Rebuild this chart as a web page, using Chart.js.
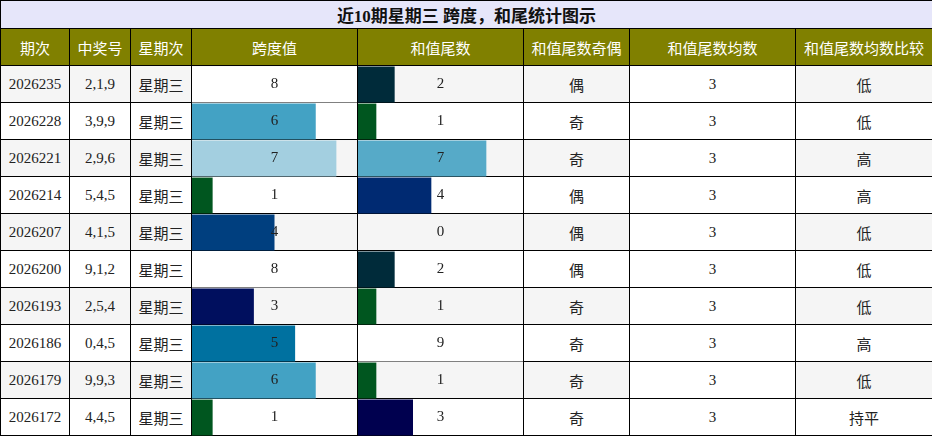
<!DOCTYPE html>
<html>
<head>
<meta charset="utf-8">
<script src="https://cdn.jsdelivr.net/npm/chart.js@4/dist/chart.umd.min.js"></script>
<style>
  body { margin: 0; width: 932px; height: 436px; overflow: hidden; background: #fff; }
  #wrap { position: relative; width: 932px; height: 436px; }
  table { position: absolute; left: 0; top: 0; border-collapse: collapse; table-layout: fixed; width: 932px; }
  td, th { border: 1px solid #000; padding: 0; text-align: center; font-size: 15px; color: #222; }
  .title { height: 27px; background: #e6e6fa; font: bold 17px "Liberation Serif", "Noto Sans CJK SC"; color: #111; }
  th { height: 36px; background: #808000; color: #fff; font: 15px "Noto Sans CJK SC"; font-weight: normal; }
  td { height: 36px; font-family: "Liberation Serif", "Noto Sans CJK SC"; }
  .cjk { font-family: "Noto Sans CJK SC"; }
  .gray { background: #f5f5f5; }
  .white { background: #fff; }
  canvas { position: absolute; }
</style>
</head>
<body>
<div id="wrap">
  <table id="tbl"></table>
  <div id="c1" style="position:absolute;left:192px;top:66px;width:165px;height:370px"><canvas id="spanChart"></canvas></div>
  <div id="c2" style="position:absolute;left:358px;top:66px;width:165px;height:370px"><canvas id="tailChart"></canvas></div>
</div>
<script>
const titleText = '近10期星期三 跨度，和尾统计图示';
const headers = ['期次', '中奖号', '星期次', '跨度值', '和值尾数', '和值尾数奇偶', '和值尾数均数', '和值尾数均数比较'];
const colWidths = [69, 61, 61, 166, 166, 106, 166, 137];
const periods = ['2026235', '2026228', '2026221', '2026214', '2026207', '2026200', '2026193', '2026186', '2026179', '2026172'];
const numbers = ['2,1,9', '3,9,9', '2,9,6', '5,4,5', '4,1,5', '9,1,2', '2,5,4', '0,4,5', '9,9,3', '4,4,5'];
const weekday = ['星期三', '星期三', '星期三', '星期三', '星期三', '星期三', '星期三', '星期三', '星期三', '星期三'];
const spanValues = [8, 6, 7, 1, 4, 8, 3, 5, 6, 1];
const tailValues = [2, 1, 7, 4, 0, 2, 1, 9, 1, 3];
const parity = ['偶', '奇', '奇', '偶', '偶', '偶', '奇', '奇', '奇', '奇'];
const tailAvg = [3, 3, 3, 3, 3, 3, 3, 3, 3, 3];
const compare = ['低', '低', '高', '高', '低', '低', '低', '高', '低', '持平'];

const spanColors = { 1: '#00561f', 3: '#000f5e', 4: '#003f7f', 5: '#0071a0', 6: '#43a2c4', 7: '#a3cfe0', 8: '#ffffff' };
const tailColors = { 1: '#00561f', 2: '#002b3a', 3: '#00004f', 4: '#002a72', 7: '#56aac8', 9: '#ffffff' };

// table skeleton
const tbl = document.getElementById('tbl');
let html = '<colgroup>' + colWidths.map(w => `<col style="width:${w}px">`).join('') + '</colgroup>';
html += `<tr><td class="title" colspan="8">${titleText}</td></tr>`;
html += '<tr>' + headers.map(h => `<th>${h}</th>`).join('') + '</tr>';
periods.forEach((p, i) => {
  const bg = i % 2 === 0 ? 'gray' : 'white';
  html += `<tr>
    <td class="${bg}">${p}</td>
    <td class="${bg}">${numbers[i]}</td>
    <td class="${bg} cjk">${weekday[i]}</td>
    <td class="${bg}"></td>
    <td class="${bg}"></td>
    <td class="${bg} cjk">${parity[i]}</td>
    <td class="white">${tailAvg[i]}</td>
    <td class="${bg} cjk">${compare[i]}</td>
  </tr>`;
});
tbl.innerHTML = html;

const labelPlugin = {
  id: 'cellLabels',
  afterDatasetsDraw(chart) {
    const { ctx, chartArea } = chart;
    const meta = chart.getDatasetMeta(0);
    const cx = (chartArea.left + chartArea.right) / 2;
    ctx.save();
    ctx.font = '15px "Liberation Serif"';
    ctx.fillStyle = '#222';
    ctx.textAlign = 'center';
    ctx.textBaseline = 'middle';
    meta.data.forEach((bar, i) => {
      ctx.fillText(String(chart.data.datasets[0].data[i]), cx, bar.y);
    });
    ctx.restore();
  }
};

function makeChart(id, values, colors, max) {
  new Chart(document.getElementById(id), {
    type: 'bar',
    data: {
      labels: periods,
      datasets: [{
        data: values,
        backgroundColor: values.map(v => colors[v] || '#ffffff'),
        borderWidth: 0,
        barPercentage: 0.97,
        categoryPercentage: 1
      }]
    },
    options: {
      indexAxis: 'y',
      responsive: true,
      maintainAspectRatio: false,
      animation: false,
      layout: { padding: 0 },
      plugins: { legend: { display: false }, tooltip: { enabled: false } },
      scales: {
        x: { display: false, min: 0, max: max },
        y: { display: false }
      }
    },
    plugins: [labelPlugin]
  });
}

makeChart('spanChart', spanValues, spanColors, 8);
makeChart('tailChart', tailValues, tailColors, 9);
</script>
</body>
</html>
